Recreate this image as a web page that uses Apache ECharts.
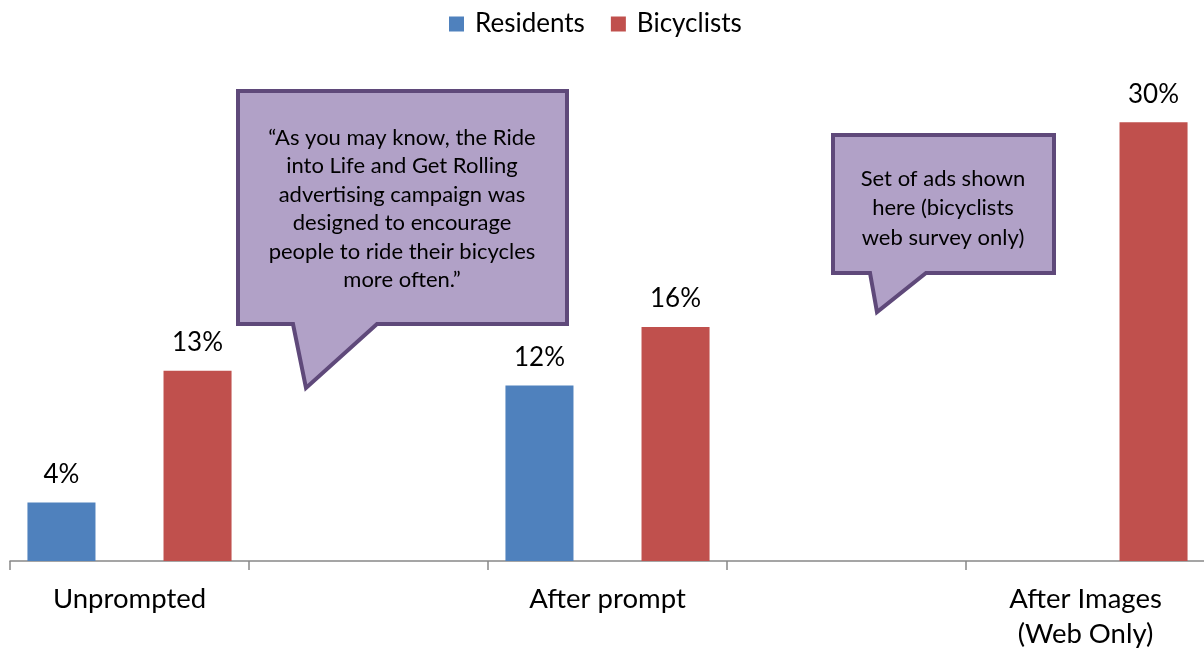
<!DOCTYPE html>
<html>
<head>
<meta charset="utf-8">
<script src="https://cdn.jsdelivr.net/npm/echarts@6/dist/echarts.min.js"></script>
<style>
  html, body { margin: 0; padding: 0; background: #fff; }
  #chart { width: 1204px; height: 648px; }
</style>
</head>
<body>
<div id="chart"></div>
<script>
// Survey results: share recalling the campaign, by stage of questioning
const categories = ['Unprompted', '', 'After prompt', '', 'After Images\n(Web Only)'];
const residents = [4, null, 12, null, null];
const bicyclists = [13, null, 16, null, 30];
const seriesNames = ['Residents', 'Bicyclists'];

const quoteText = '\u201cAs you may know, the Ride\ninto Life and Get Rolling\nadvertising campaign was\ndesigned to encourage\npeople to ride their bicycles\nmore often.\u201d';
const adsText = 'Set of ads shown\nhere (bicyclists\nweb survey only)';

const FONT = 'Lato';
const BUBBLE_FILL = '#b1a1c7';
const BUBBLE_STROKE = '#5f497a';

const chart = echarts.init(document.getElementById('chart'), null, { renderer: 'canvas' });

function bubble(points, text, cx, cy, lineHeight) {
  return {
    type: 'group',
    children: [
      {
        type: 'polygon',
        shape: { points: points },
        style: { fill: BUBBLE_FILL, stroke: BUBBLE_STROKE, lineWidth: 4, lineJoin: 'miter' },
        z: 10
      },
      {
        type: 'text',
        x: cx,
        y: cy,
        style: {
          text: text,
          fill: '#000',
          font: '22px ' + FONT,
          lineHeight: lineHeight,
          align: 'center',
          verticalAlign: 'middle'
        },
        z: 11
      }
    ]
  };
}

const labelStyle = {
  show: true,
  position: 'top',
  distance: 15,
  formatter: '{c}%',
  color: '#000',
  fontFamily: FONT,
  fontSize: 26
};

chart.setOption({
  animation: false,
  textStyle: { fontFamily: FONT },
  legend: {
    data: seriesNames,
    top: 6,
    left: 444,
    icon: 'rect',
    itemWidth: 15,
    itemHeight: 15,
    itemGap: 26,
    itemStyle: { borderWidth: 0 },
    textStyle: { fontFamily: FONT, fontSize: 26, color: '#000', padding: [0, 0, 0, 6] }
  },
  grid: { left: 10, width: 1195, top: 49, bottom: 87, containLabel: false, outerBoundsMode: 'none' },
  xAxis: {
    type: 'category',
    data: categories,
    boundaryGap: true,
    axisLine: { lineStyle: { color: '#888888', width: 1.5 } },
    axisTick: { show: true, interval: 0, length: 9, lineStyle: { color: '#888888', width: 1.5 } },
    axisLabel: {
      interval: 0,
      margin: 21,
      color: '#000',
      fontFamily: FONT,
      fontSize: 27.5,
      lineHeight: 35
    }
  },
  yAxis: {
    type: 'value',
    min: 0,
    max: 35,
    show: false,
    splitLine: { show: false }
  },
  series: [
    {
      name: seriesNames[0],
      type: 'bar',
      data: residents,
      itemStyle: { color: '#4f81bd' },
      barGap: '100%',
      barCategoryGap: '14.6%',
      label: labelStyle
    },
    {
      name: seriesNames[1],
      type: 'bar',
      data: bicyclists,
      itemStyle: { color: '#c0504d' },
      barGap: '100%',
      barCategoryGap: '14.6%',
      label: labelStyle
    }
  ],
  graphic: [
    bubble([[238, 91], [567, 91], [567, 324], [377, 324], [306, 388], [293, 324], [238, 324]],
      quoteText, 402, 209, 28.5),
    bubble([[833, 135], [1054, 135], [1054, 273], [926, 273], [877, 312], [870, 273], [833, 273]],
      adsText, 943, 208, 29.5)
  ]
});
</script>
</body>
</html>
